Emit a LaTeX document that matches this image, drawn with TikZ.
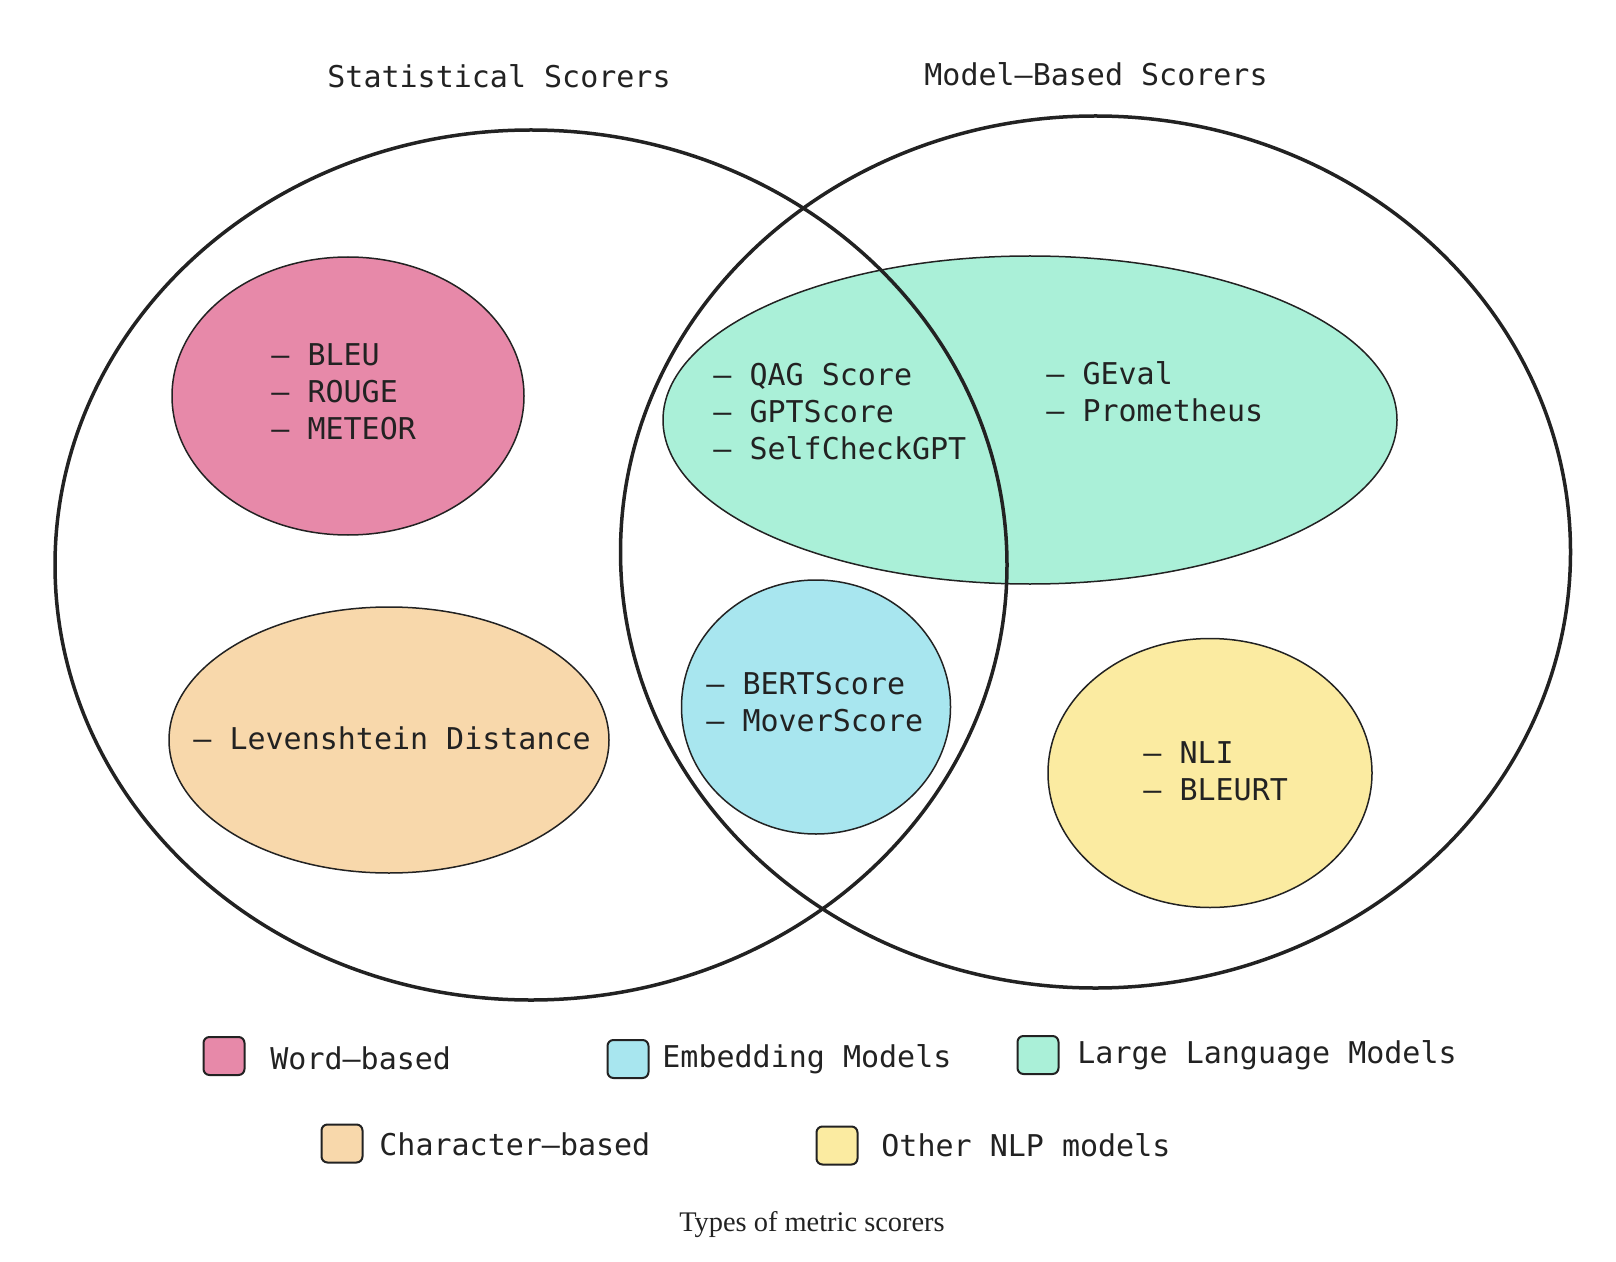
\documentclass[tikz,border=0pt]{standalone}
\usepackage{fontspec}
\setmainfont{Liberation Serif}
\setmonofont{DejaVu Sans Mono}
\usetikzlibrary{shapes.geometric,positioning}
\definecolor{ink}{HTML}{222222}
\definecolor{wordfill}{HTML}{E789A9}
\definecolor{charfill}{HTML}{F8D8AB}
\definecolor{llmfill}{HTML}{AAF0D8}
\definecolor{embfill}{HTML}{A8E6EF}
\definecolor{nlpfill}{HTML}{FBEBA1}

\begin{document}
\begin{tikzpicture}[x=0.5pt, y=-0.5pt,
    every node/.style={font=\ttfamily\fontsize{15}{18.5}\selectfont, text=ink},
    scorerset/.style={draw=ink, line width=1.75pt, ellipse, inner sep=0pt},
    metricgroup/.style={draw=ink, line width=0.75pt, ellipse, inner sep=0pt},
    items/.style={anchor=west, align=left, inner sep=0pt},
    swatch/.style={draw=ink, line width=1pt, rounded corners=3pt, minimum width=20.5pt, minimum height=19pt, inner sep=0pt},
    key/.style={anchor=west, inner sep=0pt}]
    \useasboundingbox (0,0) rectangle (1616,1262);

    \node[metricgroup, fill=wordfill, minimum width=176pt, minimum height=139pt] (word) at (348,396) {};
    \node[metricgroup, fill=charfill, minimum width=220pt, minimum height=133pt] (char) at (389,740) {};
    \node[metricgroup, fill=llmfill, minimum width=367pt, minimum height=164pt] (llm) at (1030,420) {};
    \node[metricgroup, fill=embfill, minimum width=134.5pt, minimum height=127pt] (emb) at (816,707) {};
    \node[metricgroup, fill=nlpfill, minimum width=162pt, minimum height=134.5pt] (nlp) at (1210,773) {};

    \node[scorerset, minimum width=476pt, minimum height=435pt] (stat) at (531,565) {};
    \node[scorerset, minimum width=475pt, minimum height=436pt] (model) at (1095.5,552) {};

    \node (stattitle) at (499,76) {Statistical Scorers};
    \node (modeltitle) at (1096,74) {Model–Based Scorers};

    \node[items] (wordlist) at (271,392) {– BLEU\\– ROUGE\\– METEOR};
    \node[items] (charlist) at (193,738) {– Levenshtein Distance};
    \node[items] (sharedlist) at (713,412) {– QAG Score\\– GPTScore\\– SelfCheckGPT};
    \node[items] (llmlist) at (1046,392) {– GEval\\– Prometheus};
    \node[items] (emblist) at (706,702) {– BERTScore\\– MoverScore};
    \node[items] (nlplist) at (1143,771) {– NLI\\– BLEURT};

    \node[swatch, fill=wordfill] (wordkey) at (224,1056) {};
    \node[key] (wordtext) at (270,1058) {Word–based};
    \node[swatch, fill=embfill] (embkey) at (628,1059) {};
    \node[key] (embtext) at (662,1059) {Embedding Models};
    \node[swatch, fill=llmfill] (llmkey) at (1038,1055) {};
    \node[key] (llmtext) at (1077,1055) {Large Language Models};
    \node[swatch, fill=charfill] (charkey) at (342,1143.5) {};
    \node[key] (chartext) at (379,1144) {Character–based};
    \node[swatch, fill=nlpfill] (nlpkey) at (837,1145.5) {};
    \node[key] (nlptext) at (881,1145) {Other NLP models};

    \node[font=\rmfamily\fontsize{14.2}{16}\selectfont] (caption) at (812,1225) {Types of metric scorers};
\end{tikzpicture}
\end{document}
